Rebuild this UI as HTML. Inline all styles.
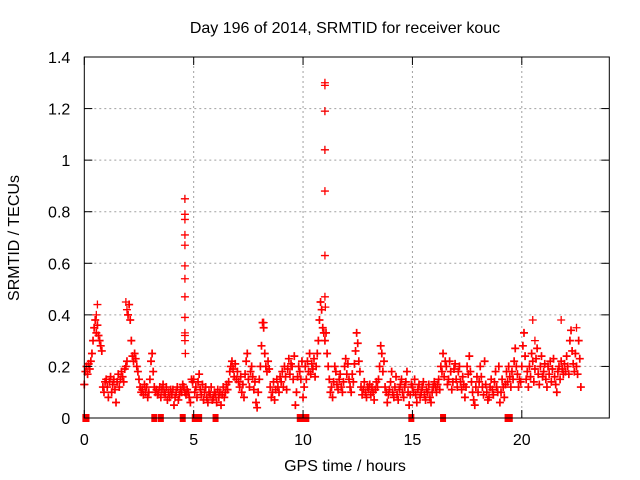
<!DOCTYPE html>
<html><head><meta charset="utf-8"><style>
body{margin:0;background:#fff}
svg{display:block;font-family:"Liberation Sans",Arial,sans-serif}
</style></head><body>
<svg id="chart" width="640" height="480" viewBox="0 0 640 480" xmlns="http://www.w3.org/2000/svg">
<rect width="640" height="480" fill="#fff"/>
<text x="345" y="33" font-size="16" text-anchor="middle">Day 196 of 2014, SRMTID for receiver kouc</text>
<text transform="translate(19,238) rotate(-90)" font-size="16" text-anchor="middle">SRMTID / TECUs</text>
<text x="345" y="471" font-size="16" text-anchor="middle">GPS time / hours</text>
<g id="grid"></g><g id="pts"></g><g id="axes"></g>
</svg>
<script>
const xTicks=[0,5,10,15,20];
const yTicks=[0,0.2,0.4,0.6,0.8,1,1.2,1.4];
const yTickLabels=["0","0.2","0.4","0.6","0.8","1","1.2","1.4"];
const sampleStart=0, sampleStep=0.05;
const srmtid=[0.13,0.18,0.2,0.17,0.21,0.19,0.22,0.25,0.3,0.35,0.38,0.33,0.36,0.32,0.3,0.28,0.26,0.12,0.1,0.14,
0.15,0.12,0.08,0.14,0.16,0.1,0.13,0.15,0.11,0.06,0.14,0.17,0.12,0.15,0.18,0.16,0.14,0.19,0.2,0.22,
0.4,0.44,0.38,0.3,0.24,0.22,0.25,0.23,0.2,0.18,0.15,0.12,0.1,0.11,0.09,0.13,0.1,0.12,0.08,0.1,
0.15,0.22,0.25,0.18,0.12,0.1,0.11,0.09,0.1,0.12,0.08,0.11,0.13,0.1,0.09,0.12,0.07,0.1,0.08,0.11,
0.09,0.11,0.05,0.08,0.1,0.12,0.07,0.09,0.11,0.1,0.13,0.12,0.1,0.09,0.11,0.1,0.08,0.06,0.15,0.14,
0.15,0.1,0.12,0.08,0.14,0.17,0.11,0.09,0.13,0.07,0.1,0.12,0.08,0.06,0.1,0.09,0.12,0.07,0.08,0.1,
0.09,0.06,0.11,0.08,0.1,0.05,0.09,0.12,0.08,0.1,0.13,0.11,0.14,0.18,0.2,0.22,0.19,0.16,0.21,0.15,
0.18,0.14,0.12,0.16,0.1,0.13,0.08,0.17,0.22,0.25,0.15,0.12,0.18,0.2,0.16,0.11,0.14,0.06,0.04,0.1,
0.15,0.2,0.28,0.37,0.35,0.25,0.2,0.18,0.22,0.19,0.12,0.08,0.1,0.14,0.07,0.11,0.15,0.12,0.1,0.16,
0.14,0.18,0.12,0.2,0.16,0.11,0.19,0.23,0.17,0.21,0.2,0.15,0.24,0.05,0.1,0.16,0.2,0.18,0.15,0.22,
0.08,0.12,0.2,0.15,0.22,0.18,0.25,0.17,0.21,0.19,0.23,0.16,0.2,0.25,0.3,0.38,0.45,0.42,0.35,0.33,
0.3,0.33,0.25,0.2,0.15,0.1,0.12,0.08,0.14,0.2,0.18,0.13,0.11,0.15,0.17,0.12,0.1,0.14,0.2,0.23,
0.17,0.21,0.15,0.12,0.1,0.17,0.14,0.21,0.26,0.33,0.29,0.22,0.18,0.12,0.09,0.11,0.14,0.1,0.08,0.12,
0.11,0.13,0.09,0.12,0.1,0.07,0.11,0.14,0.12,0.15,0.2,0.28,0.25,0.18,0.22,0.12,0.1,0.06,0.09,0.11,
0.14,0.18,0.1,0.08,0.12,0.16,0.09,0.07,0.11,0.13,0.15,0.1,0.08,0.12,0.14,0.18,0.1,0.05,0.09,0.13,
0.12,0.1,0.15,0.09,0.06,0.11,0.13,0.08,0.1,0.12,0.14,0.09,0.07,0.11,0.1,0.13,0.08,0.06,0.1,0.12,
0.14,0.12,0.1,0.13,0.15,0.11,0.2,0.18,0.25,0.16,0.22,0.2,0.13,0.15,0.22,0.18,0.11,0.14,0.19,0.21,
0.15,0.12,0.18,0.2,0.14,0.11,0.16,0.13,0.08,0.12,0.2,0.17,0.24,0.18,0.14,0.1,0.07,0.05,0.12,0.16,
0.1,0.14,0.2,0.16,0.12,0.09,0.22,0.13,0.1,0.07,0.08,0.12,0.15,0.11,0.09,0.14,0.18,0.12,0.1,0.2,
0.06,0.1,0.15,0.12,0.08,0.13,0.18,0.14,0.2,0.16,0.12,0.18,0.15,0.22,0.27,0.2,0.17,0.12,0.15,0.14,
0.2,0.28,0.33,0.24,0.15,0.18,0.12,0.2,0.16,0.25,0.22,0.14,0.19,0.23,0.27,0.17,0.13,0.2,0.24,0.16,
0.18,0.21,0.15,0.12,0.2,0.17,0.22,0.14,0.19,0.23,0.16,0.13,0.1,0.18,0.2,0.15,0.22,0.19,0.17,0.21,
0.18,0.24,0.2,0.17,0.3,0.34,0.26,0.21,0.18,0.25,0.2,0.17,0.3,0.23,0.12];
const extraTimes=[4.6,4.6,4.6,4.6,4.6,4.6,4.6,4.6,4.6,4.6,4.6,4.6,4.62,11.0,11.0,11.0,11.0,11.0,11.0,11.0,11.02,0.55,0.6,1.9,1.95,8.2,20.5,21.8,20.6,22.5];
const extraValues=[0.85,0.79,0.77,0.71,0.67,0.59,0.54,0.47,0.39,0.33,0.32,0.3,0.25,1.3,1.29,1.19,1.04,0.88,0.63,0.47,0.43,0.4,0.44,0.45,0.42,0.37,0.38,0.38,0.3,0.35];
const zeroTimes=[0.05,0.1,3.2,3.5,4.5,5.05,5.15,5.25,6.0,9.85,9.9,10.15,14.95,16.4,19.35,19.45];
const blackTimes=[0.0,11.0,11.0,4.6];
const blackValues=[0.13,1.19,1.04,0.85];

const X0=84.3,X1=609.3,Y0=418,Y1=57,XMAX=24,YMAX=1.4;
const sx=v=>X0+v/XMAX*(X1-X0);
const sy=v=>Y0-v/YMAX*(Y0-Y1);
const NS="http://www.w3.org/2000/svg";
function mk(tag,attrs,parent){const e=document.createElementNS(NS,tag);for(const k in attrs)e.setAttribute(k,attrs[k]);parent.appendChild(e);return e;}
const grid=document.getElementById('grid'),pts=document.getElementById('pts'),axes=document.getElementById('axes');
yTicks.forEach((t,i)=>{
  const y=sy(t);
  if(i>0&&i<yTicks.length-1){const g=mk('line',{x1:X0,x2:X1,y1:y,y2:y,stroke:'#a0a0a0','stroke-dasharray':'2,3'},grid);
  
  }
  mk('line',{x1:X0,x2:X0+8,y1:y,y2:y,stroke:'#000'},axes);
  mk('line',{x1:X1,x2:X1-8,y1:y,y2:y,stroke:'#000'},axes);
  const tx=mk('text',{x:X0-14,y:y+6,'font-size':16,'text-anchor':'end'},axes);
  tx.textContent=yTickLabels[i];
  
  
});
xTicks.forEach(t=>{
  const x=sx(t);
  if(t>0){const g=mk('line',{x1:x,x2:x,y1:Y0,y2:Y1,stroke:'#a0a0a0','stroke-dasharray':'2,3'},grid);
  
  }
  mk('line',{x1:x,x2:x,y1:Y0,y2:Y0-8,stroke:'#000'},axes);
  mk('line',{x1:x,x2:x,y1:Y1,y2:Y1+8,stroke:'#000'},axes);
  const tx=mk('text',{x:x,y:Y0+27,'font-size':16,'text-anchor':'middle'},axes);
  tx.textContent=String(t);
  
  
});
const frame=mk('rect',{x:X0,y:Y1,width:X1-X0,height:Y0-Y1,fill:'none',stroke:'#000'},axes);


function cross(t,v,color,w){
  const x=sx(t),y=sy(v);
  const p=mk('path',{d:`M${x-4},${y}H${x+4}M${x},${y-4}V${y+4}`,stroke:color,'stroke-width':w,fill:'none'},pts);
  
  
}
blackTimes.forEach((t,i)=>cross(t,blackValues[i],'#000',1));
srmtid.forEach((v,i)=>cross(sampleStart+i*sampleStep,v,'#f00',1.7));
extraTimes.forEach((t,i)=>cross(t,extraValues[i],'#f00',1.3));
zeroTimes.forEach(t=>{
  const r=mk('rect',{x:sx(t)-3,y:sy(0)-4,width:6,height:8,fill:'#f00'},pts);
  
  
});
</script>
</body></html>
